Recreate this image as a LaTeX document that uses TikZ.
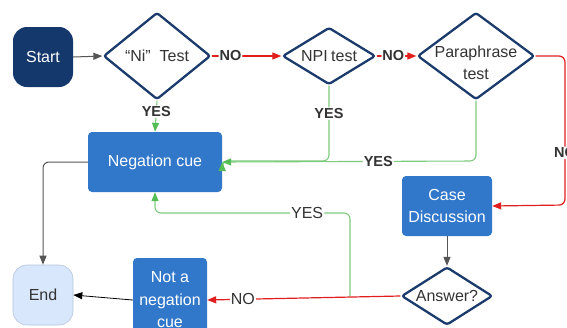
\documentclass[tikz,border=0pt]{standalone}
\usepackage{fontspec}
\setmainfont{Liberation Sans}
\usetikzlibrary{shapes.geometric,arrows.meta}
\definecolor{navy}{HTML}{14386C}
\definecolor{dnavy}{HTML}{1B3B6C}
\definecolor{boxblue}{HTML}{3278CA}
\definecolor{endfill}{HTML}{D8E7FB}
\definecolor{endline}{HTML}{B2C4DC}
\definecolor{txt}{HTML}{333333}
\definecolor{gline}{HTML}{7CCB7C}
\definecolor{ghead}{HTML}{55BD55}
\definecolor{rline}{HTML}{E01E1E}
\definecolor{kline}{HTML}{555555}
\tikzset{
  maintext/.style={font=\fontsize{16}{21.5}\selectfont},
  dec/.style={diamond, draw=dnavy, line width=2.3pt, fill=white, rounded corners=2.5pt, inner sep=0pt, maintext, text=txt},
  bluebox/.style={rectangle, fill=boxblue, rounded corners=4pt, inner sep=0pt, maintext, text=white, align=center},
  term/.style={rectangle, rounded corners=14pt, minimum width=60pt, minimum height=60pt, inner sep=0pt, maintext},
  tip/.style={-{Triangle[length=9pt,width=7pt]}},
  redc/.style={draw=rline, line width=1.2pt, tip, rounded corners=6pt},
  grnc/.style={draw=gline, line width=1.1pt, -{Triangle[length=9pt,width=7pt,color=ghead]}, rounded corners=6pt},
  blkc/.style={draw=kline, line width=1pt, tip, rounded corners=6pt},
  blab/.style={fill=white, inner sep=1pt, text=txt, font=\bfseries\fontsize{14.5}{17}\selectfont},
  rlab/.style={fill=white, inner sep=1pt, text=txt, maintext},
}
\begin{document}
\begin{tikzpicture}[x=1pt,y=-1pt]
\useasboundingbox (0,0) rectangle (567,327);
% nodes
\node[term, fill=navy, text=white] (start) at (43,57) {Start};
\node[dec, minimum width=107pt, minimum height=87pt, label={[maintext,text=txt]center:“Ni”\ \ Test}] (ni) at (157,56) {};
\node[dec, minimum width=93pt, minimum height=57pt, label={[maintext,text=txt]center:NPI\kern-1pt\ test}] (npi) at (329,56) {};
\node[dec, minimum width=117pt, minimum height=87pt, label={[maintext,text=txt,align=center,yshift=-7pt]center:Paraphrase\\test}] (para) at (476,56) {};
\node[bluebox, minimum width=134pt, minimum height=60pt] (neg) at (155,162) {Negation cue};
\node[bluebox, minimum width=90pt, minimum height=60pt] (case) at (447,206) {Case\\Discussion};
\node[dec, minimum width=91pt, minimum height=58pt, label={[maintext,text=txt]center:Answer?}] (ans) at (447,296) {};
\node[bluebox, minimum width=74pt, minimum height=84pt, font=\fontsize{16}{22.5}\selectfont] (nota) at (170,300) {Not a\\negation\\cue};
\node[term, fill=endfill, draw=endline, line width=0.6pt, text=txt] (end) at (43,295) {End};
% coordinates
\coordinate (pr) at (565,56);
\coordinate (pc) at (565,205);
\coordinate (npid) at (329,161);
\coordinate (parad) at (476,161);
\coordinate (negl) at (43,162);
\coordinate (ybr) at (350,296);
\coordinate (ybu) at (350,213);
\coordinate (ybl) at (155,213);
% connectors
\draw[blkc] (start.east) -- (ni.west);
\draw[redc] (ni.east) -- node[blab, pos=0.27] {NO} (npi.west);
\draw[redc] (npi.east) -- node[blab, pos=0.42] {NO} (para.west);
\draw[redc] (para.east) -- (pr) -- node[blab, pos=0.65] {NO} (pc) -- (case.east);
\draw[grnc] (ni.south) -- node[blab, pos=0.35] {YES} (neg.north);
\draw[grnc] (npi.south) -- node[blab, pos=0.37] {YES} (npid) -- (neg.east |- npid) -- (neg.east);
\draw[grnc] (para.south) -- (parad) -- node[blab, pos=0.385] {YES} (neg.east);
\draw[blkc] (neg.west) -- (negl) -- (end.north);
\draw[blkc] (case.south) -- (ans.north);
\draw[redc] (ans.west) -- node[rlab, pos=0.815] {NO} (nota.east);
\draw[grnc] (ybr) -- (ybu) -- node[rlab, pos=0.22] {YES} (ybl) -- (neg.south);
\draw[draw=black, line width=0.8pt, tip] (nota.west) -- (end.east);
\end{tikzpicture}
\end{document}
